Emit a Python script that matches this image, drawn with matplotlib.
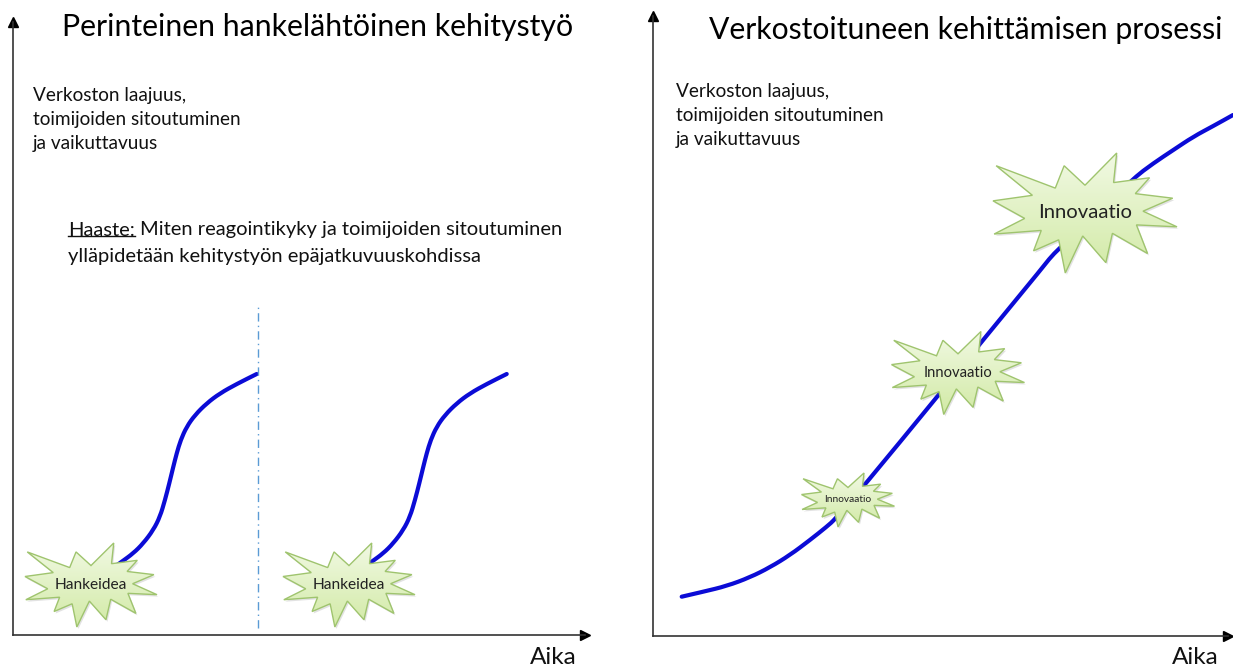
import numpy as np
import matplotlib
matplotlib.use("Agg")
import matplotlib.pyplot as plt
from matplotlib.patches import Polygon, PathPatch
from matplotlib.path import Path
from matplotlib.colors import LinearSegmentedColormap

plt.rcParams['font.family'] = ['Lato', 'DejaVu Sans']

W, H = 1233, 669

# vasen paneeli: hankkeen S-käyrä (aika, taso), sama muoto toistuu jokaisessa hankkeessa
project_time = [96, 108.7, 120.3, 130.3, 140.3, 147, 152, 156.3, 160.3, 163.7, 167.7,
                173.7, 182, 193.7, 207, 223.7, 243.7]
project_level = [64, 73.3, 81.7, 91.7, 105, 118.3, 135, 151.7, 168.3, 181.7, 195,
                 208.3, 220, 231.7, 241.7, 251, 261]
project_starts = [0, 250]
idea_labels = ['Hankeidea', 'Hankeidea']
idea_time = [78, 336]
idea_level = [50, 50]
break_time = 245
break_range = [7, 330]

# oikea paneeli: verkostoitunut prosessi
network_time = [28.7, 50.3, 73.7, 97, 117, 137, 157, 173.7, 182, 210, 284, 330,
                390.3, 402, 480.3, 500.3, 520.3, 540.3, 560.3, 580]
network_level = [39.3, 44.3, 50, 58.7, 68.7, 81, 96, 109.3, 116.7, 149, 239, 296,
                 369.3, 384.3, 457.7, 472.7, 486, 499.3, 510, 521]
innov_labels = ['Innovaatio', 'Innovaatio', 'Innovaatio']
innov_time = [195, 305, 432]
innov_level = [136, 263, 423]

# irregularSeal1 -muoto (0..1)
SEAL = np.array([(10800, 5800), (14522, 0), (14155, 5325), (18380, 4457), (16702, 7315),
                 (21097, 8137), (17607, 10475), (21600, 13290), (16837, 12942), (18145, 18095),
                 (14020, 14457), (13247, 19737), (10532, 14935), (8485, 21600), (7715, 15627),
                 (4762, 17617), (5667, 13937), (135, 14587), (3722, 11775), (0, 8615),
                 (4627, 7617), (370, 2295), (7312, 6320), (8352, 2295)]) / 21600.0

green = LinearSegmentedColormap.from_list('g', ['#d2eaa6', '#f1f9e3'])
BLUE = '#0b0bd6'


def smooth_line(ax, xs, ys, **kw):
    # pehmeä käyrä pisteiden kautta (neliölliset Bezier-palat keskipisteiden välillä)
    p = np.column_stack([xs, ys])
    verts = [p[0]]
    codes = [Path.MOVETO]
    for i in range(1, len(p) - 1):
        verts += [p[i], (p[i] + p[i + 1]) / 2]
        codes += [Path.CURVE3, Path.CURVE3]
    verts.append(p[-1])
    codes.append(Path.LINETO)
    patch = PathPatch(Path(verts, codes), fc='none', ec=BLUE, lw=3, capstyle='round',
                      joinstyle='round', zorder=2, **kw)
    ax.add_patch(patch)


def burst(ax, cx, cy, w, h, label, size):
    pts = np.column_stack([cx + (SEAL[:, 0] - 0.5) * w, cy + (0.5 - SEAL[:, 1]) * h])
    ax.add_patch(Polygon(pts + [1.5, -2], closed=True, fc='0.55', ec='none', alpha=0.25, zorder=3))
    poly = Polygon(pts, closed=True, fc='none', ec='#9fc46e', lw=1.0, zorder=5)
    ax.add_patch(poly)
    grad = np.linspace(0, 1, 64).reshape(-1, 1)
    im = ax.imshow(grad, cmap=green, origin='lower', aspect='auto', zorder=4,
                   extent=[cx - w / 2, cx + w / 2, cy - h / 2, cy + h / 2])
    im.set_clip_path(poly)
    ax.text(cx, cy, label, ha='center', va='center', fontsize=size, color='#222222', zorder=6)


def style_axes(ax):
    ax.set_xticks([])
    ax.set_yticks([])
    ax.patch.set_visible(False)
    for s in ('top', 'right'):
        ax.spines[s].set_visible(False)
    for s in ('left', 'bottom'):
        ax.spines[s].set_color('#333333')
        ax.spines[s].set_linewidth(1.2)
    ax.plot(1, 0, '>', color='k', ms=7, transform=ax.transAxes, clip_on=False)
    ax.plot(0, 1, '^', color='k', ms=7, transform=ax.transAxes, clip_on=False)


def px_axes(fig, x0, y_bottom, x1, y_top):
    return fig.add_axes([x0 / W, 1 - y_bottom / H, (x1 - x0) / W, (y_bottom - y_top) / H])


fig = plt.figure(figsize=(W / 100, H / 100), dpi=100)

# vasen
axL = px_axes(fig, 13, 635, 585, 22)
style_axes(axL)
for s in project_starts:
    smooth_line(axL, np.array(project_time) + s, project_level)
axL.vlines(break_time, break_range[0], break_range[1], color='#5b9bd5', lw=1,
           linestyles=(0, (6, 3, 1, 3)))
for lab, t, lv in zip(idea_labels, idea_time, idea_level):
    burst(axL, t, lv, 132, 84, lab, 11.2)
axL.set_xlim(0, 572)
axL.set_ylim(0, 613)

# oikea
axR = px_axes(fig, 653, 636, 1228, 16)
style_axes(axR)
smooth_line(axR, network_time, network_level, clip_on=False)
sizes = [(93, 54, 7.3), (133, 83, 10.6), (184, 120, 14.6)]
for lab, t, lv, (w, h, fs) in zip(innov_labels, innov_time, innov_level, sizes):
    burst(axR, t, lv, w, h, lab, fs)
axR.set_xlim(0, 575)
axR.set_ylim(0, 620)

# tekstit
fig.text(318 / W, 1 - 27 / H, 'Perinteinen hankelähtöinen kehitystyö', ha='center', va='center',
         fontsize=21.8, color='#000000')
fig.text(966 / W, 1 - 30 / H, 'Verkostoituneen kehittämisen prosessi', ha='center', va='center',
         fontsize=21.7, color='#000000')
ylab = 'Verkoston laajuus,\ntoimijoiden sitoutuminen\nja vaikuttavuus'
fig.text(33 / W, 1 - 119 / H, ylab, ha='left', va='center', fontsize=13.7, linespacing=1.5,
         color='#111111')
fig.text(676 / W, 1 - 115 / H, ylab, ha='left', va='center', fontsize=13.7, linespacing=1.5,
         color='#111111')
fig.text(553 / W, 1 - 657 / H, 'Aika', ha='center', va='center', fontsize=17.5, color='#111111')
fig.text(1195 / W, 1 - 657 / H, 'Aika', ha='center', va='center', fontsize=17.5, color='#111111')

t1 = fig.text(68 / W, 1 - 230 / H, 'Haaste:', ha='left', va='center', fontsize=14.5, color='#111111')
fig.canvas.draw()
bb = t1.get_window_extent()
fig.add_artist(plt.Line2D([bb.x0 / W, bb.x1 / W], [(bb.y0 + 0.15 * bb.height) / H] * 2,
                          color='#111111', lw=1))
fig.text((bb.x1 + 5) / W, 1 - 230 / H, 'Miten reagointikyky ja toimijoiden sitoutuminen',
         ha='left', va='center', fontsize=14.5, color='#111111')
fig.text(68 / W, 1 - 256 / H, 'ylläpidetään kehitystyön epäjatkuvuuskohdissa',
         ha='left', va='center', fontsize=14.5, color='#111111')

fig.savefig('out.png', dpi=100)
